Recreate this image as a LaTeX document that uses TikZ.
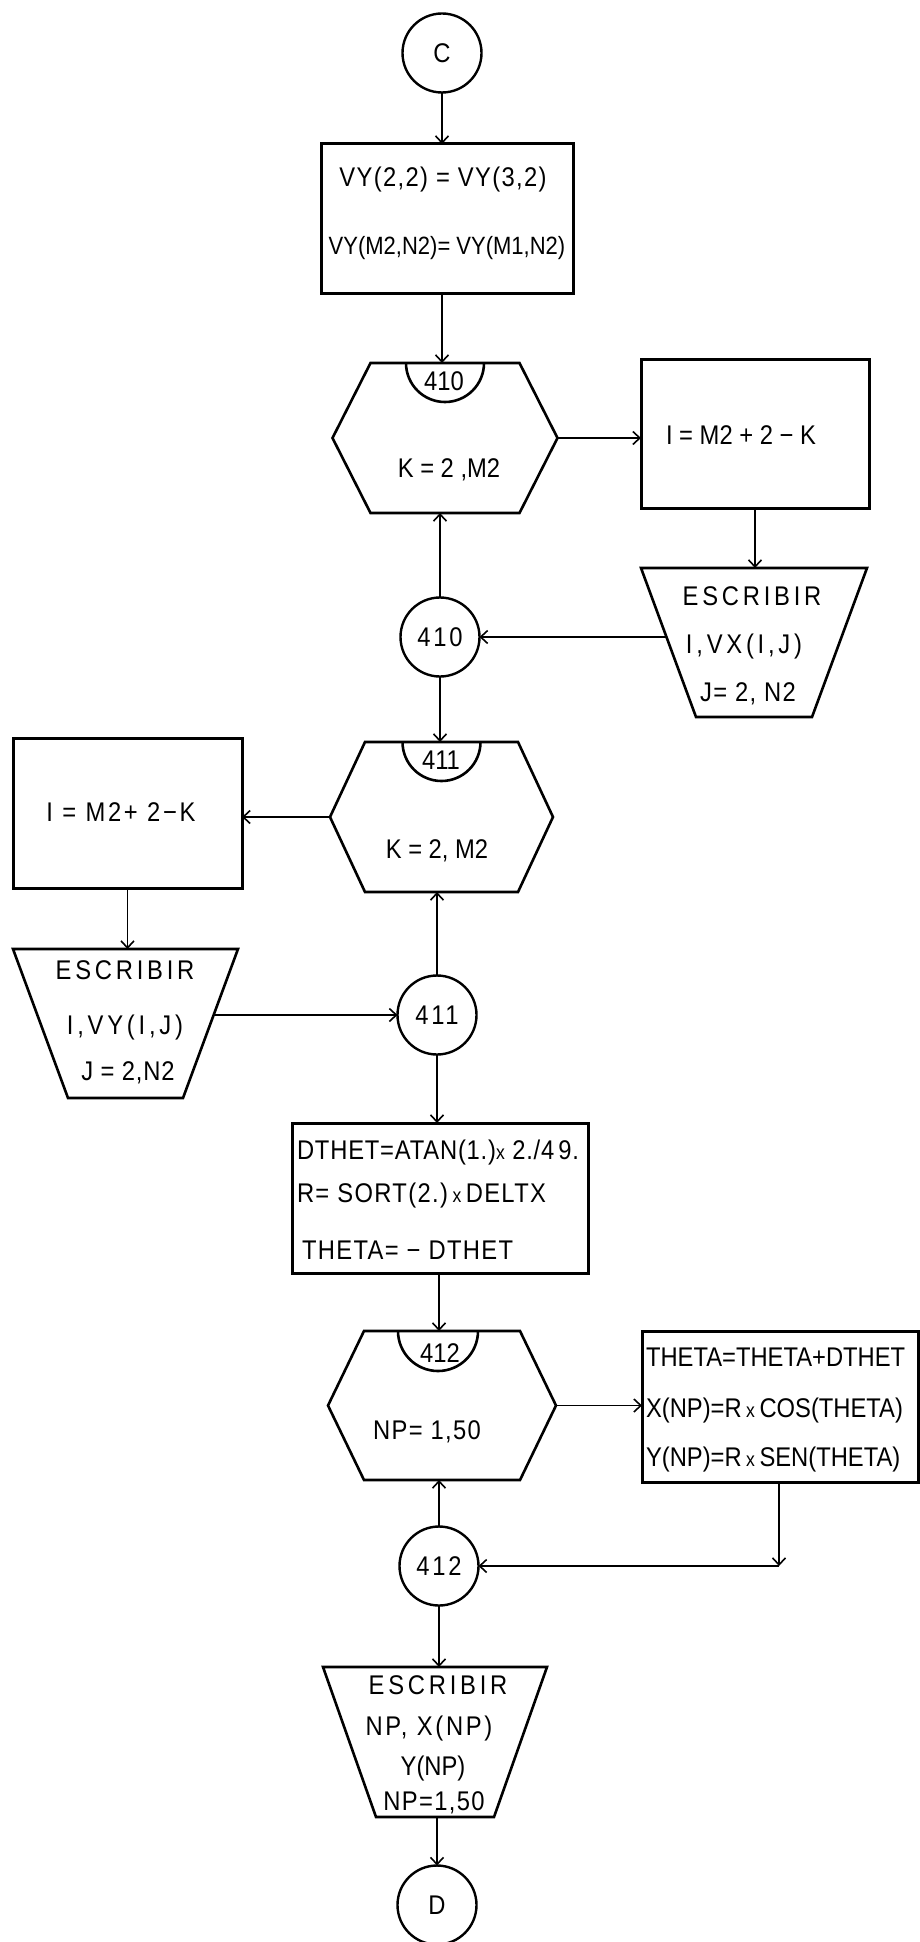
\documentclass[tikz,border=0pt]{standalone}
\usepackage{fontspec}
\setmainfont{Liberation Sans}[FakeStretch=0.88]
\newfontfamily\lsA{Liberation Sans}[FakeStretch=0.88,LetterSpace=3]
\newfontfamily\lsB{Liberation Sans}[FakeStretch=0.88,LetterSpace=5]
\newfontfamily\lsC{Liberation Sans}[FakeStretch=0.88,LetterSpace=10]
\newfontfamily\lsD{Liberation Sans}[FakeStretch=0.88,LetterSpace=14]
\usetikzlibrary{calc,arrows.meta}
\newcommand{\mulx}{{\fontsize{10}{10}\selectfont x}}
\begin{document}
\begin{tikzpicture}[x=0.5pt,y=-0.5pt,
  every node/.style={inner sep=0pt,outer sep=0pt},
  txt/.style={font=\fontsize{13.5}{15}\selectfont},
  fa/.style={font={\lsA\fontsize{13.5}{15}\selectfont}},
  fb/.style={font={\lsB\fontsize{13.5}{15}\selectfont}},
  fc/.style={font={\lsC\fontsize{13.5}{15}\selectfont}},
  fd/.style={font={\lsD\fontsize{13.5}{15}\selectfont}},
  boxshape/.style={draw,rectangle,line width=1.5pt},
  holder/.style={rectangle,draw=none},
  conn/.style={circle,draw,line width=1.2pt,minimum size=39.5pt,font={\lsC\fontsize{13.5}{15}\selectfont}},
  arr/.style={line width=0.8pt,-{Straight Barb[length=3.5pt,width=6.5pt]}},
  outline/.style={line width=1.3pt,line join=miter},
]
\useasboundingbox (0,0) rectangle (920,1942);

% ---------- top column ----------
\node[conn] (C) at (442,53) {C};

\node[boxshape,minimum width=126pt,minimum height=74.5pt] (b1) at (447,218.5) {};
\node[fb] (b1a) at (443,180) {VY(2,2) = VY(3,2)};
\node[font=\fontsize{12.5}{14}\selectfont] (b1b) at (447,248) {VY(M2,N2)= VY(M1,N2)};

% hexagon 410
\node[holder,minimum width=112.5pt,minimum height=75pt] (h410) at (445,438) {};
\draw[outline] (h410.west) -- ($(h410.north west)+(38,0)$) -- ($(h410.north east)+(-38,0)$)
  -- (h410.east) -- ($(h410.south east)+(-38,0)$) -- ($(h410.south west)+(38,0)$) -- cycle;
\draw[outline] ($(h410.north)+(-39,0)$) arc[start angle=180,end angle=360,radius=19.5pt];
\node[txt] (h410n) at (444,381) {410};
\node[txt] (h410t) at (449,470) {K = 2 ,M2};

% right box I
\node[boxshape,minimum width=114pt,minimum height=74.5pt] (bI) at (755,433.5) {};
\node[txt] (bIt) at (741,435) {I = M2 + 2 − K};

% right trapezoid
\node[holder,minimum width=113pt,minimum height=74.5pt] (trR) at (754,642.5) {};
\draw[outline] (trR.north west) -- (trR.north east) -- ($(trR.south east)+(-55,0)$)
  -- ($(trR.south west)+(55,0)$) -- cycle;
\node[fd] (trRa) at (752,596) {ESCRIBIR};
\node[fd] (trRb) at (744,647) {I,VX(I,J)};
\node[fb] (trRc) at (748,694) {J= 2, N2};
\coordinate (trRl) at (666.5,637);

\node[conn] (c410) at (440,637) {410};

% hexagon 411
\node[holder,minimum width=111.5pt,minimum height=75pt] (h411) at (441.5,817) {};
\draw[outline] (h411.west) -- ($(h411.north west)+(35,0)$) -- ($(h411.north east)+(-35,0)$)
  -- (h411.east) -- ($(h411.south east)+(-35,0)$) -- ($(h411.south west)+(35,0)$) -- cycle;
\draw[outline] ($(h411.north)+(-39,0)$) arc[start angle=180,end angle=360,radius=19.5pt];
\node[txt] (h411n) at (441,760) {411};
\node[txt] (h411t) at (437,851) {K = 2, M2};

% left box
\node[boxshape,minimum width=114.5pt,minimum height=75pt] (bL) at (127.5,813) {};
\node[fc] (bLt) at (121,812) {I = M2+ 2−K};

% left trapezoid
\node[holder,minimum width=112.5pt,minimum height=74.5pt] (trL) at (125.5,1023.5) {};
\draw[outline] (trL.north west) -- (trL.north east) -- ($(trL.south east)+(-55,0)$)
  -- ($(trL.south west)+(55,0)$) -- cycle;
\node[fd] (trLa) at (125,970) {ESCRIBIR};
\node[fd] (trLb) at (125,1028) {I,VY(I,J)};
\node[fa] (trLc) at (128,1073) {J = 2,N2};
\coordinate (trLr) at (213.6,1015);

\node[conn] (c411) at (437,1015) {411};

% DTHET box
\node[boxshape,minimum width=148pt,minimum height=75pt] (bD) at (440,1198) {};
\node[fa,anchor=west] (bDa) at (297,1152) {DTHET=ATAN(1.)\mulx\ 2./4\kern2pt9.};
\node[fb,anchor=west] (bDb) at (297,1195) {R= SORT(2.)\,\mulx\,DELTX};
\node[fb,anchor=west] (bDc) at (302,1250) {THETA= − DTHET};

% hexagon 412
\node[holder,minimum width=114pt,minimum height=74.5pt] (h412) at (442,1405.5) {};
\draw[outline] (h412.west) -- ($(h412.north west)+(36,0)$) -- ($(h412.north east)+(-36,0)$)
  -- (h412.east) -- ($(h412.south east)+(-36,0)$) -- ($(h412.south west)+(36,0)$) -- cycle;
\draw[outline] ($(h412.north)+(-44,0)$) arc[start angle=180,end angle=360,radius=20pt];
\node[txt] (h412n) at (440,1353) {412};
\node[fb] (h412t) at (427,1432) {NP= 1,50};

% THETA box
\node[boxshape,minimum width=138pt,minimum height=75.5pt] (bT) at (780,1406.5) {};
\node[txt,anchor=west] (bTa) at (646,1357) {THETA=THETA+DTHET};
\node[txt,anchor=west] (bTb) at (646,1410) {X(NP)=R\,\mulx\,COS(THETA)};
\node[txt,anchor=west] (bTc) at (646,1459) {Y(NP)=R\,\mulx\,SEN(THETA)};
\coordinate (rc) at (779,1566);

\node[conn] (c412) at (439,1566) {412};

% bottom trapezoid
\node[holder,minimum width=112pt,minimum height=75pt] (trB) at (435,1742) {};
\draw[outline] (trB.north west) -- (trB.north east) -- ($(trB.south east)+(-53,0)$)
  -- ($(trB.south west)+(53,0)$) -- cycle;
\node[fd] (trBa) at (438,1685) {ESCRIBIR};
\node[fc] (trBb) at (429,1728) {NP, X(NP)};
\node[txt] (trBc) at (433,1768) {Y(NP)};
\node[fb] (trBd) at (434,1803) {NP=1,50};

\node[conn] (D) at (437,1905) {D};

% ---------- connectors ----------
\draw[arr] (C) -- (C |- b1.north);
\draw[arr] (b1.south -| C) -- (h410.north -| C);
\draw[arr] (h410.east) -- (h410.east -| bI.west);
\draw[arr] (bI.south) -- (bI.south |- trR.north);
\draw[arr] (trRl) -- (c410);
\draw[arr] (c410) -- (c410 |- h410.south);
\draw[arr] (c410) -- (c410 |- h411.north);
\draw[arr] (h411.west) -- (h411.west -| bL.east);
\draw[arr] (bL.south) -- (bL.south |- trL.north);
\draw[arr] (trLr) -- (c411);
\draw[arr] (c411) -- (c411 |- h411.south);
\draw[arr] (c411) -- (c411 |- bD.north);
\draw[arr] (bD.south -| c412) -- (h412.north -| c412);
\draw[arr] (h412.east) -- (h412.east -| bT.west);
\draw[arr] (bT.south -| rc) -- (rc);
\draw[arr] (rc) -- (c412);
\draw[arr] (c412) -- (c412 |- h412.south);
\draw[arr] (c412) -- (c412 |- trB.north);
\draw[arr] (trB.south -| D) -- (D);
\end{tikzpicture}
\end{document}
